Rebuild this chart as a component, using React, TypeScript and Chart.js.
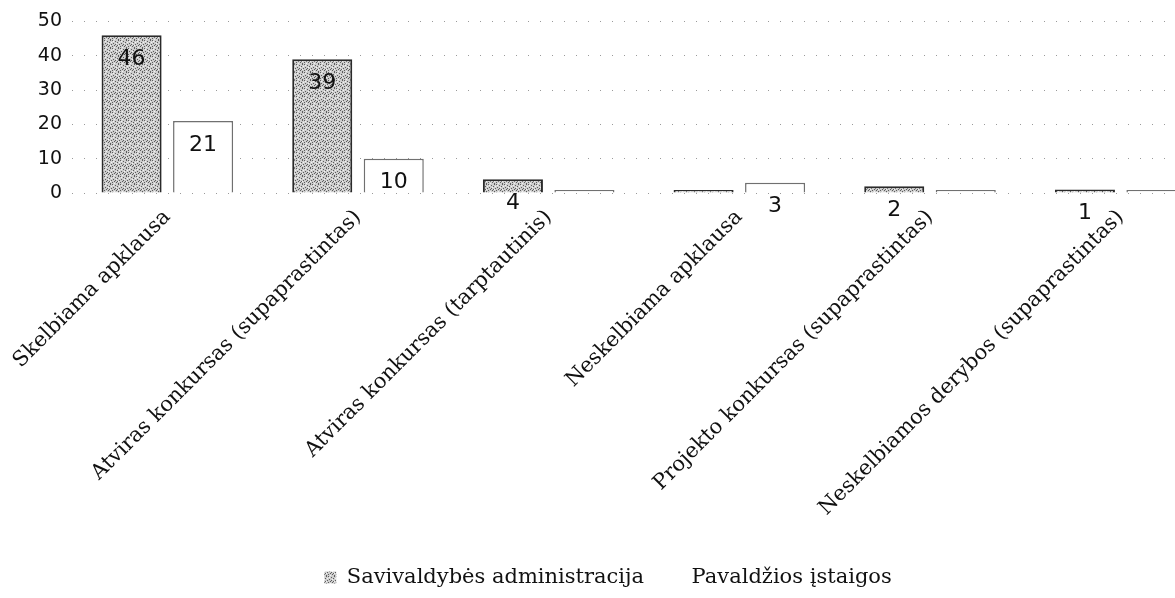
import React, { useEffect, useRef } from "react";
import { Chart, registerables } from "chart.js";

Chart.register(...registerables);

const categories = [
  "Skelbiama apklausa",
  "Atviras konkursas (supaprastintas)",
  "Atviras konkursas (tarptautinis)",
  "Neskelbiama apklausa",
  "Projekto konkursas (supaprastintas)",
  "Neskelbiamos derybos (supaprastintas)",
];
const seriesNames = ["Savivaldybės administracija", "Pavaldžios įstaigos"];
const savivaldybesValues = [46, 39, 4, 0, 2, 1];
const pavaldziosValues = [21, 10, 0, 3, 0, 0];
const yMin = 0;
const yMax = 50;
const yStep = 10;

function makeStipple(): CanvasPattern | string {
  const c = document.createElement("canvas");
  c.width = 8;
  c.height = 8;
  const g = c.getContext("2d");
  if (!g) return "#c4c4c4";
  g.fillStyle = "#cdcdcd";
  g.fillRect(0, 0, 8, 8);
  const dark = [
    [0, 0], [3, 1], [6, 0], [1, 3], [5, 2], [7, 4], [2, 5], [4, 6], [6, 7], [0, 6], [3, 4], [5, 5],
  ];
  g.fillStyle = "#5c5c5c";
  dark.forEach(([x, y]) => g.fillRect(x, y, 1, 1));
  const light = [[1, 1], [4, 3], [2, 7], [7, 2], [6, 5]];
  g.fillStyle = "#f2f2f2";
  light.forEach(([x, y]) => g.fillRect(x, y, 1, 1));
  return g.createPattern(c, "repeat") || "#c4c4c4";
}

const valueLabels = {
  id: "valueLabels",
  afterDatasetsDraw(chart: any) {
    const ctx = chart.ctx;
    ctx.save();
    ctx.font = '22px "DejaVu Sans"';
    ctx.fillStyle = "#111111";
    ctx.textAlign = "center";
    ctx.textBaseline = "middle";
    chart.data.datasets.forEach((ds: any, di: number) => {
      const meta = chart.getDatasetMeta(di);
      meta.data.forEach((bar: any, i: number) => {
        const v = ds.data[i] as number;
        if (!v) return;
        ctx.fillText(String(v), bar.x, bar.y + 24);
      });
    });
    ctx.restore();
  },
};

export default function App() {
  const ref = useRef<HTMLCanvasElement | null>(null);

  useEffect(() => {
    if (!ref.current) return;
    const stipple = makeStipple();
    const chart = new Chart(ref.current, {
      type: "bar",
      data: {
        labels: categories,
        datasets: [
          {
            label: seriesNames[0],
            data: savivaldybesValues,
            backgroundColor: stipple as any,
            borderColor: "#2a2a2a",
            borderWidth: 2,
            minBarLength: 3,
            categoryPercentage: 0.75,
            barPercentage: 0.84,
          },
          {
            label: seriesNames[1],
            data: pavaldziosValues,
            backgroundColor: "#ffffff",
            borderColor: "#707070",
            borderWidth: 1.5,
            minBarLength: 3,
            categoryPercentage: 0.75,
            barPercentage: 0.84,
          },
        ],
      },
      options: {
        animation: false,
        responsive: true,
        maintainAspectRatio: false,
        layout: { padding: { top: 10, left: 0, right: 0, bottom: 0 } },
        plugins: {
          tooltip: { enabled: false },
          legend: {
            position: "bottom",
            labels: {
              boxWidth: 12,
              boxHeight: 12,
              padding: 25,
              color: "#111111",
              font: { family: "DejaVu Serif", size: 21 },
              generateLabels: (c: any) => {
                const items = (Chart.defaults.plugins.legend.labels as any).generateLabels(c);
                items.forEach((it: any, i: number) => {
                  it.lineWidth = 0;
                  it.strokeStyle = "rgba(0,0,0,0)";
                  if (i === 1) it.fillStyle = "#ffffff";
                });
                return items;
              },
            },
          },
        },
        scales: {
          x: {
            grid: { display: false },
            border: { display: false },
            ticks: {
              autoSkip: false,
              minRotation: 45,
              maxRotation: 45,
              padding: 4,
              color: "#111111",
              font: { family: "DejaVu Serif", size: 21 },
            },
            afterFit: (s: any) => {
              s.height = 349;
            },
          },
          y: {
            min: yMin,
            max: yMax,
            ticks: {
              stepSize: yStep,
              padding: 10,
              color: "#111111",
              font: { family: "DejaVu Sans", size: 19 },
            },
            grid: { color: "#9a9a9a", lineWidth: 1, drawTicks: false },
            border: { display: false, dash: [1, 11] },
            afterFit: (s: any) => {
              s.width = 72;
            },
          },
        },
      },
      plugins: [valueLabels],
    });
    return () => chart.destroy();
  }, []);

  return (
    <div
      style={{
        position: "fixed",
        left: 0,
        top: 0,
        width: 1175,
        height: 598,
        overflow: "hidden",
        background: "#ffffff",
      }}
    >
      <div style={{ position: "relative", width: 1216, height: 598 }}>
        <canvas ref={ref} />
      </div>
    </div>
  );
}
